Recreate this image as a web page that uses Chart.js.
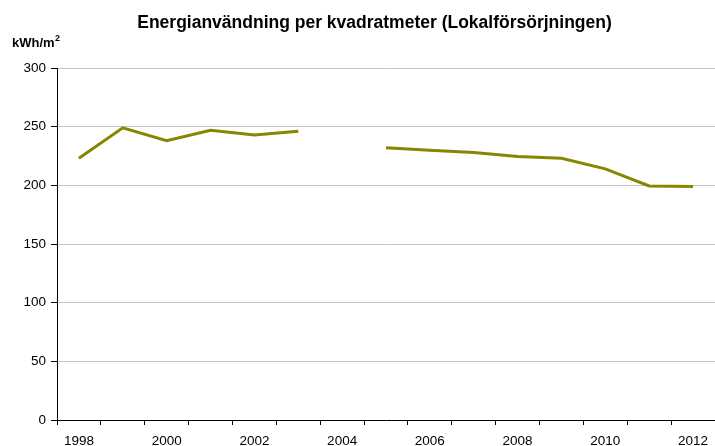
<!DOCTYPE html>
<html>
<head>
<meta charset="utf-8">
<script src="https://cdn.jsdelivr.net/npm/chart.js@4/dist/chart.umd.min.js"></script>
<style>
    html, body { margin: 0; padding: 0; background: #fff; }
    #wrap { width: 715px; height: 446px; position: relative; }
</style>
</head>
<body>
<div id="wrap"><canvas id="energyChart"></canvas></div>
<script>
const years = ["1998", "1999", "2000", "2001", "2002", "2003", "2004", "2005",
               "2006", "2007", "2008", "2009", "2010", "2011", "2012"];
// 2004 saknas i underlaget
const kwhPerM2 = [223, 249, 238, 247, 243, 246, null, 232, 230, 228, 224.5, 223, 214, 199.5, 199];
const yTicks = [0, 50, 100, 150, 200, 250, 300];

const chartTitle = "Energianvändning per kvadratmeter (Lokalförsörjningen)";
const unitBase = "kWh/m";
const unitSup = "2";
const lineColor = "#868600";
const font = "'Liberation Sans', Arial, sans-serif";

// Title and unit text, placed like the Excel original
const headerText = {
    id: 'headerText',
    afterDraw(chart) {
        const ctx = chart.ctx;
        ctx.save();
        ctx.fillStyle = "#000";
        ctx.textBaseline = "alphabetic";
        ctx.font = "bold 17.5px " + font;
        ctx.textAlign = "center";
        ctx.fillText(chartTitle, 374.5, 28);
        ctx.font = "bold 13px " + font;
        ctx.textAlign = "left";
        ctx.fillText(unitBase, 12, 47);
        const w = ctx.measureText(unitBase).width;
        ctx.font = "bold 9px " + font;
        ctx.fillText(unitSup, 12 + w + 0.5, 41);
        ctx.restore();
    }
};

new Chart(document.getElementById("energyChart"), {
    type: "line",
    data: {
        labels: years,
        datasets: [{
            label: "kWh/m²",
            data: kwhPerM2,
            borderColor: lineColor,
            borderWidth: 3,
            pointRadius: 0,
            pointHoverRadius: 0,
            tension: 0,
            spanGaps: false,
            fill: false
        }]
    },
    options: {
        responsive: true,
        maintainAspectRatio: false,
        animation: false,
        // plot area runs a little past the right edge, like the original
        layout: { padding: { top: 68, right: -2, left: 0, bottom: 0 } },
        plugins: {
            legend: { display: false },
            title: { display: false },
            tooltip: { enabled: false }
        },
        scales: {
            x: {
                type: "category",
                offset: true,
                afterFit: (scale) => { scale.height = 26; scale.paddingRight = 0; },
                border: { display: true, color: "#000", width: 1 },
                grid: {
                    offset: true,
                    drawOnChartArea: false,
                    drawTicks: true,
                    tickLength: 5,
                    tickColor: "#000"
                },
                ticks: {
                    autoSkip: false,
                    maxRotation: 0,
                    padding: 8,
                    color: "#000",
                    font: { family: font, size: 13.5 },
                    callback: (val, i) => (i % 2 === 0 ? years[i] : "")
                }
            },
            y: {
                min: 0,
                max: 300,
                afterFit: (scale) => { scale.width = 57; },
                afterBuildTicks: (scale) => { scale.ticks = yTicks.map(v => ({ value: v })); },
                border: { display: true, color: "#000", width: 1 },
                grid: {
                    color: "#c4c4c4",
                    lineWidth: 1,
                    drawTicks: true,
                    tickLength: 6,
                    tickColor: "#000"
                },
                ticks: {
                    padding: 5,
                    color: "#000",
                    font: { family: font, size: 13.5 }
                }
            }
        }
    },
    plugins: [headerText]
});
</script>
</body>
</html>
